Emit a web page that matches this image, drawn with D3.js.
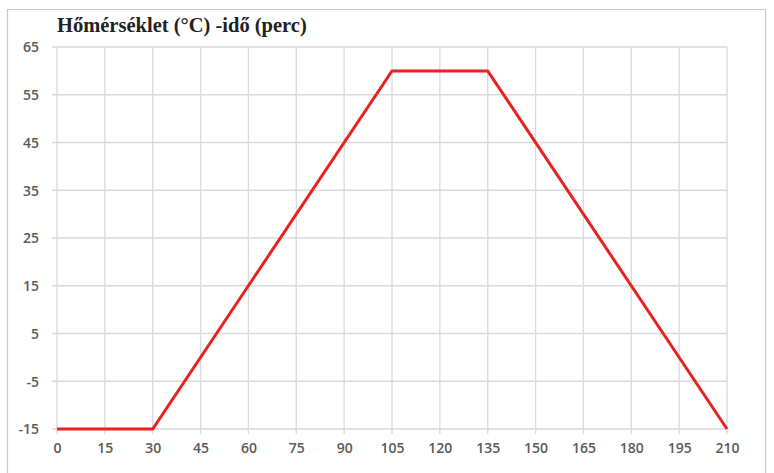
<!DOCTYPE html>
<html>
<head>
<meta charset="utf-8">
<style>
  html, body { margin: 0; padding: 0; background: #fff; }
  svg { display: block; }
</style>
</head>
<body>
<svg width="774" height="473"></svg>
<script src="https://d3js.org/d3.v7.min.js"></script>
<script>

    // time (perc) and temperature (°C)
    var times = [0, 30, 105, 135, 210];
    var temps = [-15, -15, 60, 60, -15];
    var xTicks = [0, 15, 30, 45, 60, 75, 90, 105, 120, 135, 150, 165, 180, 195, 210];
    var yTicks = [-15, -5, 5, 15, 25, 35, 45, 55, 65];
    var title = "Hőmérséklet (°C) -idő (perc)";

    var svg = d3.select("svg"),
        width = +svg.attr("width"),
        height = +svg.attr("height");

    var margin = {top: 47, right: 47, bottom: 44, left: 57};

    var x = d3.scaleLinear()
        .domain([0, 210])
        .range([margin.left, width - margin.right]);

    var y = d3.scaleLinear()
        .domain([-15, 65])
        .range([height - margin.bottom, margin.top]);

    // outer frame
    svg.append("path")
        .attr("d", "M7.5," + height + "V9.5H" + (width - 8.5) + "V" + height)
        .attr("fill", "none")
        .attr("stroke", "#c8c8c8")
        .attr("stroke-width", 1.2);

    svg.append("text")
        .attr("x", 57)
        .attr("y", 32)
        .attr("font-family", "'Liberation Serif', 'DejaVu Serif', serif")
        .attr("font-weight", "bold")
        .attr("font-size", 20.5)
        .attr("fill", "#222")
        .text(title);

    // grid
    var grid = svg.append("g").attr("stroke", "#d9d9de").attr("stroke-width", 1.3);

    grid.selectAll(".h")
        .data(yTicks)
        .enter().append("line")
        .attr("x1", margin.left - 5)
        .attr("x2", width - margin.right)
        .attr("y1", function(d) { return y(d); })
        .attr("y2", function(d) { return y(d); });

    grid.selectAll(".v")
        .data(xTicks)
        .enter().append("line")
        .attr("x1", function(d) { return x(d); })
        .attr("x2", function(d) { return x(d); })
        .attr("y1", margin.top)
        .attr("y2", height - margin.bottom + 5);

    // axes labels (plain hyphen for negatives, as in the original)
    var fmt = function(d) { return String(d); };
    var yAxis = d3.axisLeft(y).tickValues(yTicks).tickFormat(fmt).tickSize(0).tickPadding(0);
    var xAxis = d3.axisBottom(x).tickValues(xTicks).tickFormat(fmt).tickSize(0).tickPadding(0);

    var ya = svg.append("g")
        .attr("transform", "translate(" + (margin.left - 18) + ",0)")
        .call(yAxis);
    var xa = svg.append("g")
        .attr("transform", "translate(0," + (height - margin.bottom + 14) + ")")
        .call(xAxis);

    [ya, xa].forEach(function(a) {
        a.select(".domain").remove();
        a.selectAll("text")
            .attr("font-family", "'Open Sans', 'DejaVu Sans', sans-serif")
            .attr("font-weight", 600)
            .attr("font-size", 14)
            .attr("fill", "#5a5a5a");
    });
    ya.selectAll("text").attr("dy", "0.35em");
    xa.selectAll("text").attr("dy", "0.71em");

    var line = d3.line()
        .x(function(d) { return x(d[0]); })
        .y(function(d) { return y(d[1]); });

    svg.append("path")
        .datum(d3.zip(times, temps))
        .attr("fill", "none")
        .attr("stroke", "#e8231f")
        .attr("stroke-width", 3)
        .attr("stroke-linejoin", "miter")
        .attr("d", line);

</script>
</body>
</html>
